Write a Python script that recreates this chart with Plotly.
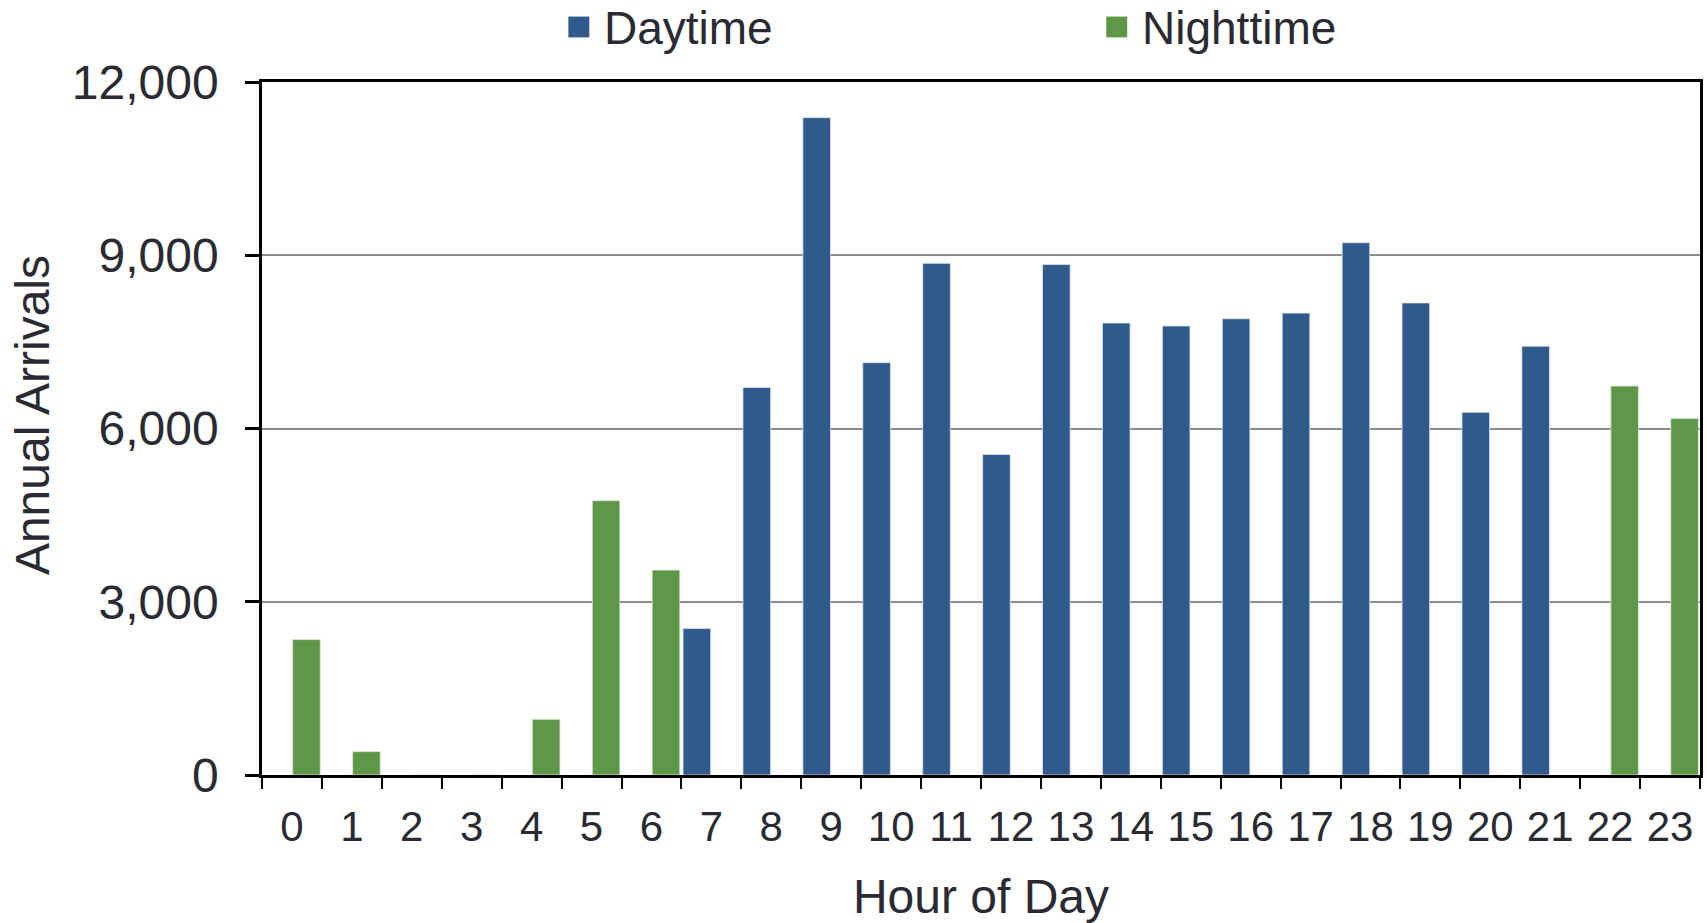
import plotly.graph_objects as go

# ---------------- data ----------------
hours = [str(h) for h in range(24)]
daytime = [None, None, None, None, None, None, None,
           2536, 6710, 11383, 7140, 8860, 5551, 8841, 7826, 7775,
           7900, 7998, 9217, 8174, 6280, 7425, None, None]
nighttime = [2345, 405, 0, 0, 965, 4750, 3548,
             None, None, None, None, None, None, None, None, None,
             None, None, None, None, None, None, 6735, 6172]
y_tick_values = [0, 3000, 6000, 9000, 12000]
y_tick_labels = ["0", "3,000", "6,000", "9,000", "12,000"]
series_names = ["Daytime", "Nighttime"]
axis_titles = ["Hour of Day", "Annual Arrivals"]

# ---------------- style ----------------
BLUE = "#2F5A8B"
GREEN = "#5F9749"
TEXT = "#2A2A33"
FONT = "Liberation Sans, Arial, sans-serif"

W, H = 1707, 923
# plot area in pixels
L, R, T, B = 262, 1703, 82, 781

def px_x(p):
    return (p - L) / (R - L)

def px_y(p):
    return (B - p) / (B - T)

fig = go.Figure()
fig.add_trace(go.Bar(x=hours, y=daytime, name=series_names[0],
                     marker=dict(color=BLUE, line=dict(color="rgba(220,230,240,0.8)", width=1)),
                     showlegend=False))
fig.add_trace(go.Bar(x=hours, y=nighttime, name=series_names[1],
                     marker=dict(color=GREEN, line=dict(color="rgba(220,235,215,0.8)", width=1)),
                     showlegend=False))

# custom legend (squares + labels)
legend_items = [(series_names[0], BLUE, 569, 603), (series_names[1], GREEN, 1108, 1142)]
shapes = []
annotations = []
for name, col, mx, tx in legend_items:
    shapes.append(dict(type="rect", xref="paper", yref="paper",
                       x0=px_x(mx), x1=px_x(mx + 21), y0=px_y(37), y1=px_y(16),
                       fillcolor=col, line=dict(width=0)))
    annotations.append(dict(text=name, xref="paper", yref="paper",
                            x=px_x(tx), y=px_y(28), xanchor="left", yanchor="middle",
                            showarrow=False, font=dict(family=FONT, size=46, color=TEXT)))

# y-axis title (slightly above centre, like the original)
annotations.append(dict(text=axis_titles[1], xref="paper", yref="paper",
                        x=px_x(32), y=0.52, xanchor="center", yanchor="middle",
                        textangle=-90, showarrow=False,
                        font=dict(family=FONT, size=48, color=TEXT)))

fig.update_layout(
    width=W, height=H,
    margin=dict(l=L, r=W - R, t=T, b=H - B, pad=0),
    paper_bgcolor="white", plot_bgcolor="white",
    barmode="group", bargap=0.03, bargroupgap=0.05,
    font=dict(family=FONT, color=TEXT),
    shapes=shapes, annotations=annotations,
    showlegend=False,
)
fig.update_xaxes(
    type="category", tickson="boundaries",
    showline=True, linecolor="black", linewidth=2.5, mirror=True,
    ticks="outside", ticklen=11, tickwidth=2, tickcolor="black",
    showgrid=False, tickfont=dict(family=FONT, size=42, color=TEXT),
    ticklabelstandoff=13,
    title=dict(text=axis_titles[0], font=dict(family=FONT, size=48, color=TEXT), standoff=35),
    layer="above traces",
)
fig.update_yaxes(
    range=[0, 12000], tickvals=y_tick_values, ticktext=y_tick_labels,
    showline=True, linecolor="black", linewidth=2.5, mirror=True,
    ticks="outside", ticklen=14, tickwidth=2.5, tickcolor="black",
    showgrid=True, gridcolor="#8C8C8C", gridwidth=2,
    zeroline=False,
    tickfont=dict(family=FONT, size=48, color=TEXT),
    ticklabelstandoff=17,
    layer="below traces",
)

fig.write_html(
    "out.html",
    config={"displayModeBar": False},
    post_script="document.body.style.margin='0';document.body.style.overflow='hidden';",
)
